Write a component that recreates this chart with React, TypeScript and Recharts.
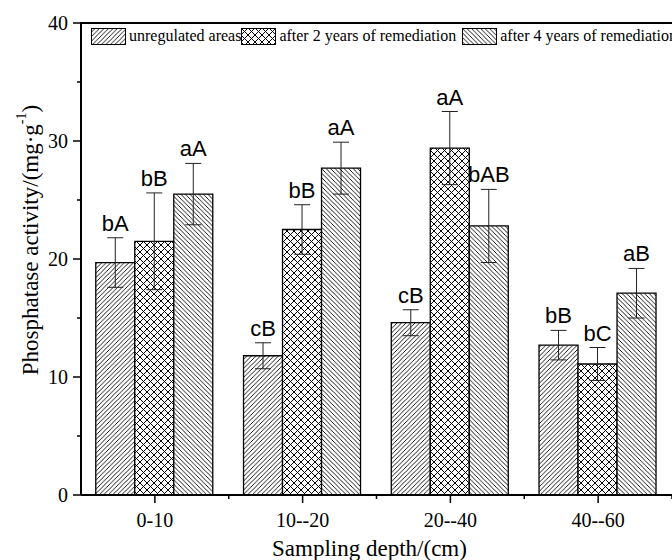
import React from 'react';
import { BarChart, Bar, XAxis, YAxis, ErrorBar, LabelList, Label } from 'recharts';

// sampling depths (x categories)
const depths = ['0-10', '10--20', '20--40', '40--60'];

// phosphatase activity means and standard errors
const unregulated = [19.7, 11.8, 14.6, 12.7];
const unregulatedErr = [2.1, 1.1, 1.1, 1.25];
const after2 = [21.5, 22.5, 29.4, 11.1];
const after2Err = [4.1, 2.1, 3.1, 1.4];
const after4 = [25.5, 27.7, 22.8, 17.1];
const after4Err = [2.6, 2.2, 3.1, 2.1];

// significance letters
const unregulatedSig = ['bA', 'cB', 'cB', 'bB'];
const after2Sig = ['bB', 'bB', 'aA', 'bC'];
const after4Sig = ['aA', 'aA', 'bAB', 'aB'];

const yTicks = [0, 5, 10, 15, 20, 25, 30, 35, 40];
const yMajor = [0, 10, 20, 30, 40];
const Y_MAX = 40;

const seriesNames = ['unregulated areas', 'after 2 years of remediation', 'after 4 years of remediation'];

const data = depths.map((depth, i) => ({
  depth,
  unregulated: unregulated[i],
  unregulatedErr: unregulatedErr[i],
  unregulatedSig: unregulatedSig[i],
  after2: after2[i],
  after2Err: after2Err[i],
  after2Sig: after2Sig[i],
  after4: after4[i],
  after4Err: after4Err[i],
  after4Sig: after4Sig[i],
}));

const W = 672;
const H = 560;
const margin = { top: 23, right: 0, bottom: 0, left: 0 };
const Y_W = 81;
const X_H = 65;
const PLOT_W = W - margin.left - margin.right - Y_W;
const CAT_W = PLOT_W / depths.length;

const SERIF = "'Liberation Serif', 'Times New Roman', serif";
const SANS = "'Liberation Sans', Arial, sans-serif";

const patterns = ['hatchFwd', 'hatchCross', 'hatchBack'];

const YTick = (props: any) => {
  const { x, y, payload } = props;
  const major = yMajor.includes(payload.value);
  return (
    <g>
      <line x1={x - (major ? 8 : 4)} x2={x} y1={y} y2={y} stroke="#000" strokeWidth={1.5} />
      {/* top frame of the plot */}
      {payload.value === Y_MAX && <line x1={x - 1} x2={x + PLOT_W} y1={y} y2={y} stroke="#000" strokeWidth={2} />}
      {major && (
        <text x={x - 13} y={y} dy="0.35em" textAnchor="end" fontFamily={SERIF} fontSize={20} fill="#000">
          {payload.value}
        </text>
      )}
    </g>
  );
};

const XTick = (props: any) => {
  const { x, y, payload } = props;
  return (
    <g>
      <line x1={x} x2={x} y1={y} y2={y + 8} stroke="#000" strokeWidth={1.5} />
      <line x1={x + CAT_W / 2} x2={x + CAT_W / 2} y1={y} y2={y + 4} stroke="#000" strokeWidth={1.5} />
      <text x={x} y={y + 32} textAnchor="middle" fontFamily={SERIF} fontSize={20} fill="#000">
        {payload.value}
      </text>
    </g>
  );
};

const sigLabel = (valKey: string, errKey: string) => (props: any) => {
  const vb = props.viewBox ?? props;
  const { x, y, width, height } = vb;
  const row = data[props.index];
  if (!row) return null;
  const ppu = height / row[valKey];
  const top = y - row[errKey] * ppu;
  return (
    <text x={x + width / 2} y={top - 7} textAnchor="middle" fontFamily={SANS} fontSize={22} fill="#000">
      {props.value}
    </text>
  );
};

const ChartLegend = () => (
  <div
    style={{
      position: 'absolute',
      left: 91,
      top: 27,
      display: 'flex',
      alignItems: 'center',
      whiteSpace: 'nowrap',
      fontFamily: SERIF,
      fontSize: 16,
      color: '#000',
    }}
  >
    {seriesNames.map((name, i) => (
      <div key={name} style={{ display: 'flex', alignItems: 'center', marginRight: i === 1 ? 6 : 0 }}>
        <svg width={35} height={17} style={{ marginRight: 3 }}>
          <rect x={0.5} y={0.5} width={34} height={16} fill={`url(#${patterns[i]})`} stroke="#000" strokeWidth={1} />
        </svg>
        <span>{name}</span>
      </div>
    ))}
  </div>
);

const YTitle = (props: any) => {
  const { viewBox } = props;
  const cx = viewBox.x + 30;
  const cy = viewBox.y + viewBox.height / 2 - 19;
  return (
    <text x={cx} y={cy} transform={`rotate(-90 ${cx} ${cy})`} textAnchor="middle" dominantBaseline="central" fontFamily={SERIF} fontSize={23} fill="#000">
      Phosphatase activity/(mg·g
      <tspan dy={-9} fontSize={14}>-1</tspan>
      <tspan dy={9}>)</tspan>
    </text>
  );
};

const XTitle = (props: any) => {
  const { viewBox } = props;
  return (
    <text x={viewBox.x + viewBox.width / 2 - 7} y={viewBox.y + 61} textAnchor="middle" fontFamily={SERIF} fontSize={23} fill="#000">
      Sampling depth/(cm)
    </text>
  );
};

export default function App() {
  return (
    <div style={{ position: 'absolute', left: 0, top: 0, width: W, height: H, overflow: 'hidden', background: '#fff' }}>
      <BarChart width={W} height={H} data={data} margin={margin} barCategoryGap="10%" barGap={0}>
        <defs>
          <pattern id="hatchFwd" patternUnits="userSpaceOnUse" width={4.5} height={4.5}>
            <rect width={4.5} height={4.5} fill="#fff" />
            <path d="M-1,1 l2,-2 M0,4.5 l4.5,-4.5 M3.5,5.5 l2,-2" stroke="#000" strokeWidth={0.9} />
          </pattern>
          <pattern id="hatchBack" patternUnits="userSpaceOnUse" width={4.5} height={4.5}>
            <rect width={4.5} height={4.5} fill="#fff" />
            <path d="M-1,3.5 l2,2 M0,0 l4.5,4.5 M3.5,-1 l2,2" stroke="#000" strokeWidth={0.9} />
          </pattern>
          <pattern id="hatchCross" patternUnits="userSpaceOnUse" width={7} height={7}>
            <rect width={7} height={7} fill="#fff" />
            <path d="M-1,-1 L8,8 M8,-1 L-1,8" stroke="#000" strokeWidth={1} />
          </pattern>
        </defs>
        <XAxis
          dataKey="depth"
          height={X_H}
          interval={0}
          axisLine={{ stroke: '#000', strokeWidth: 2 }}
          tickLine={false}
          tickSize={0}
          tickMargin={0}
          tick={<XTick />}
        >
          <Label content={<XTitle />} />
        </XAxis>
        <YAxis
          width={Y_W}
          domain={[0, Y_MAX]}
          ticks={yTicks}
          interval={0}
          axisLine={{ stroke: '#000', strokeWidth: 2 }}
          tickLine={false}
          tickSize={0}
          tickMargin={0}
          tick={<YTick />}
        >
          <Label content={<YTitle />} />
        </YAxis>
        <Bar dataKey="unregulated" name={seriesNames[0]} fill="url(#hatchFwd)" stroke="#000" strokeWidth={1.3} isAnimationActive={false}>
          <ErrorBar dataKey="unregulatedErr" width={8} stroke="#222" strokeWidth={1} isAnimationActive={false} />
          <LabelList dataKey="unregulatedSig" content={sigLabel('unregulated', 'unregulatedErr')} />
        </Bar>
        <Bar dataKey="after2" name={seriesNames[1]} fill="url(#hatchCross)" stroke="#000" strokeWidth={1.3} isAnimationActive={false}>
          <ErrorBar dataKey="after2Err" width={8} stroke="#222" strokeWidth={1} isAnimationActive={false} />
          <LabelList dataKey="after2Sig" content={sigLabel('after2', 'after2Err')} />
        </Bar>
        <Bar dataKey="after4" name={seriesNames[2]} fill="url(#hatchBack)" stroke="#000" strokeWidth={1.3} isAnimationActive={false}>
          <ErrorBar dataKey="after4Err" width={8} stroke="#222" strokeWidth={1} isAnimationActive={false} />
          <LabelList dataKey="after4Sig" content={sigLabel('after4', 'after4Err')} />
        </Bar>
      </BarChart>
      <ChartLegend />
    </div>
  );
}
